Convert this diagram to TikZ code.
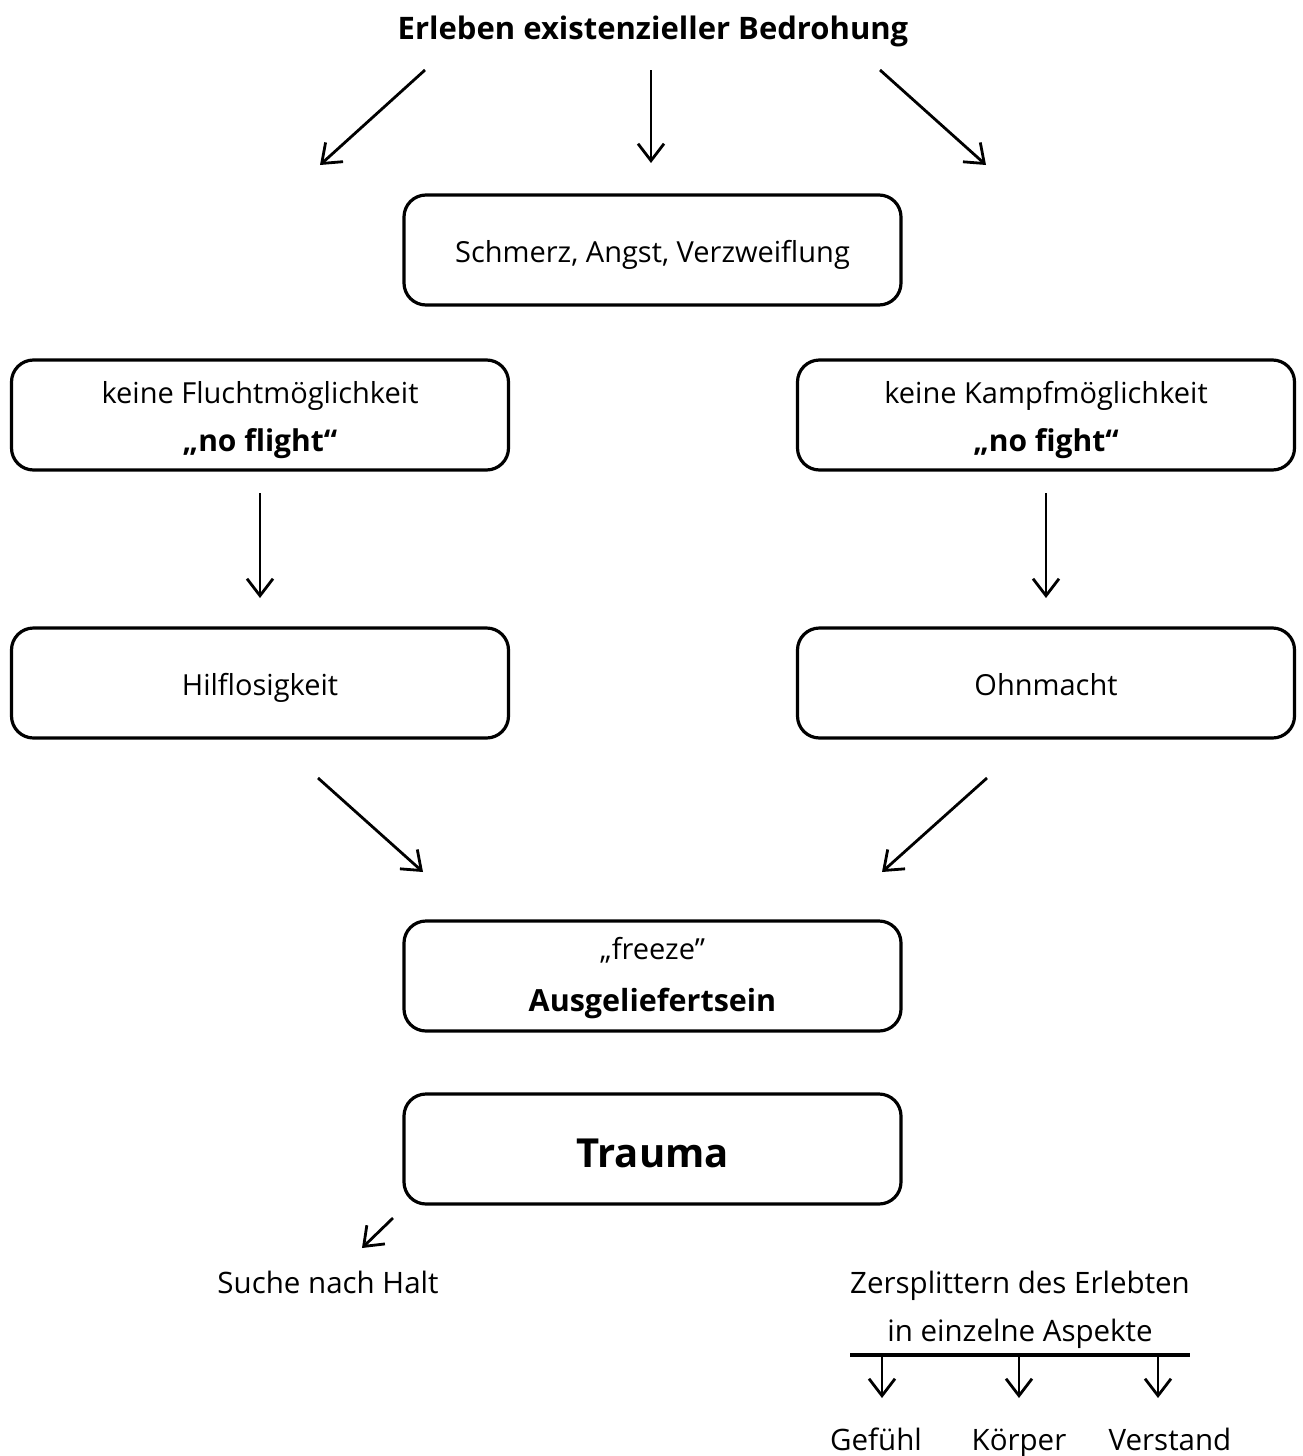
\documentclass[tikz,border=0pt]{standalone}
\usepackage{fontspec}
\setmainfont{Open Sans}
\usetikzlibrary{arrows.meta}
\newcommand{\atbase}[2]{\raisebox{-#1pt}[0pt][0pt]{#2}}
\begin{document}
\begin{tikzpicture}[x=1pt,y=-1pt,
  box/.style={draw, line width=3.2pt, rounded corners=22pt, minimum width=497pt, minimum height=110pt, inner sep=0pt, font=\fontsize{29}{48}\selectfont},
  arr/.style={line width=2.8pt, -{Straight Barb[length=17pt,width=26pt,line width=2.8pt]}},
  txt/.style={inner sep=0pt, anchor=base, font=\fontsize{29.5}{49}\selectfont}]
\useasboundingbox (0,0) rectangle (1303,1456);
\node[txt, font=\fontsize{31}{36}\selectfont\bfseries] (title) at (653,39) {Erleben existenzieller Bedrohung};
\coordinate (t1) at (425,70); \coordinate (t1e) at (320,165);
\coordinate (t2) at (651,70); \coordinate (t2e) at (651,163);
\coordinate (t3) at (880,70); \coordinate (t3e) at (986,165);
\draw[arr] (t1) -- (t1e);
\draw[arr] (t2) -- (t2e);
\draw[arr] (t3) -- (t3e);
\node[box] (schmerz) at (652.5,250) {\atbase{12}{Schmerz, Angst, Verzweiflung}};
\node[box] (flucht) at (260,415) {\atbase{36}{\shortstack{keine Fluchtmöglichkeit\\[15pt]{\bfseries\fontsize{30}{40}\selectfont „no flight“}}}};
\node[box] (kampf) at (1046,415) {\atbase{36}{\shortstack{keine Kampfmöglichkeit\\[15pt]{\bfseries\fontsize{30}{40}\selectfont „no fight“}}}};
\node[box] (hilf) at (260,683) {\atbase{12}{Hilflosigkeit}};
\node[box] (ohn) at (1046,683) {\atbase{12}{Ohnmacht}};
\coordinate (f1) at (260,493); \coordinate (f1e) at (260,598);
\coordinate (k1) at (1046,493); \coordinate (k1e) at (1046,598);
\draw[arr] (f1) -- (f1e);
\draw[arr] (k1) -- (k1e);
\node[box] (freeze) at (652.5,976) {\atbase{35}{\shortstack{„freeze”\\[21pt]{\bfseries\fontsize{30.5}{40}\selectfont Ausgeliefertsein}}}};
\coordinate (h1) at (318,778); \coordinate (h1e) at (423,872);
\coordinate (o1) at (987,778); \coordinate (o1e) at (882,872);
\draw[arr] (h1) -- (h1e);
\draw[arr] (o1) -- (o1e);
\node[box, font=\fontsize{40}{48}\selectfont\bfseries] (trauma) at (652.5,1149) {\atbase{18}{Trauma}};
\coordinate (s1) at (393,1218); \coordinate (s1e) at (362,1248);
\draw[arr] (s1) -- (s1e);
\node[txt] (suche) at (328,1293) {Suche nach Halt};
\node[txt] (zers) at (1020,1293) {Zersplittern des Erlebten};
\node[txt] (zers2) at (1020,1341) {in einzelne Aspekte};
\coordinate (bl) at (850,1355); \coordinate (br) at (1190,1355);
\draw[line width=3.2pt] (bl) -- (br);
\node[txt] (gef) at (876,1450) {Gefühl};
\node[txt] (koe) at (1019,1450) {Körper};
\node[txt] (ver) at (1170,1450) {Verstand};
\coordinate (a1) at (882,1355); \coordinate (a1e) at (882,1398);
\coordinate (a2) at (1019,1355); \coordinate (a2e) at (1019,1398);
\coordinate (a3) at (1158,1355); \coordinate (a3e) at (1158,1398);
\draw[arr] (a1) -- (a1e);
\draw[arr] (a2) -- (a2e);
\draw[arr] (a3) -- (a3e);
\end{tikzpicture}
\end{document}
